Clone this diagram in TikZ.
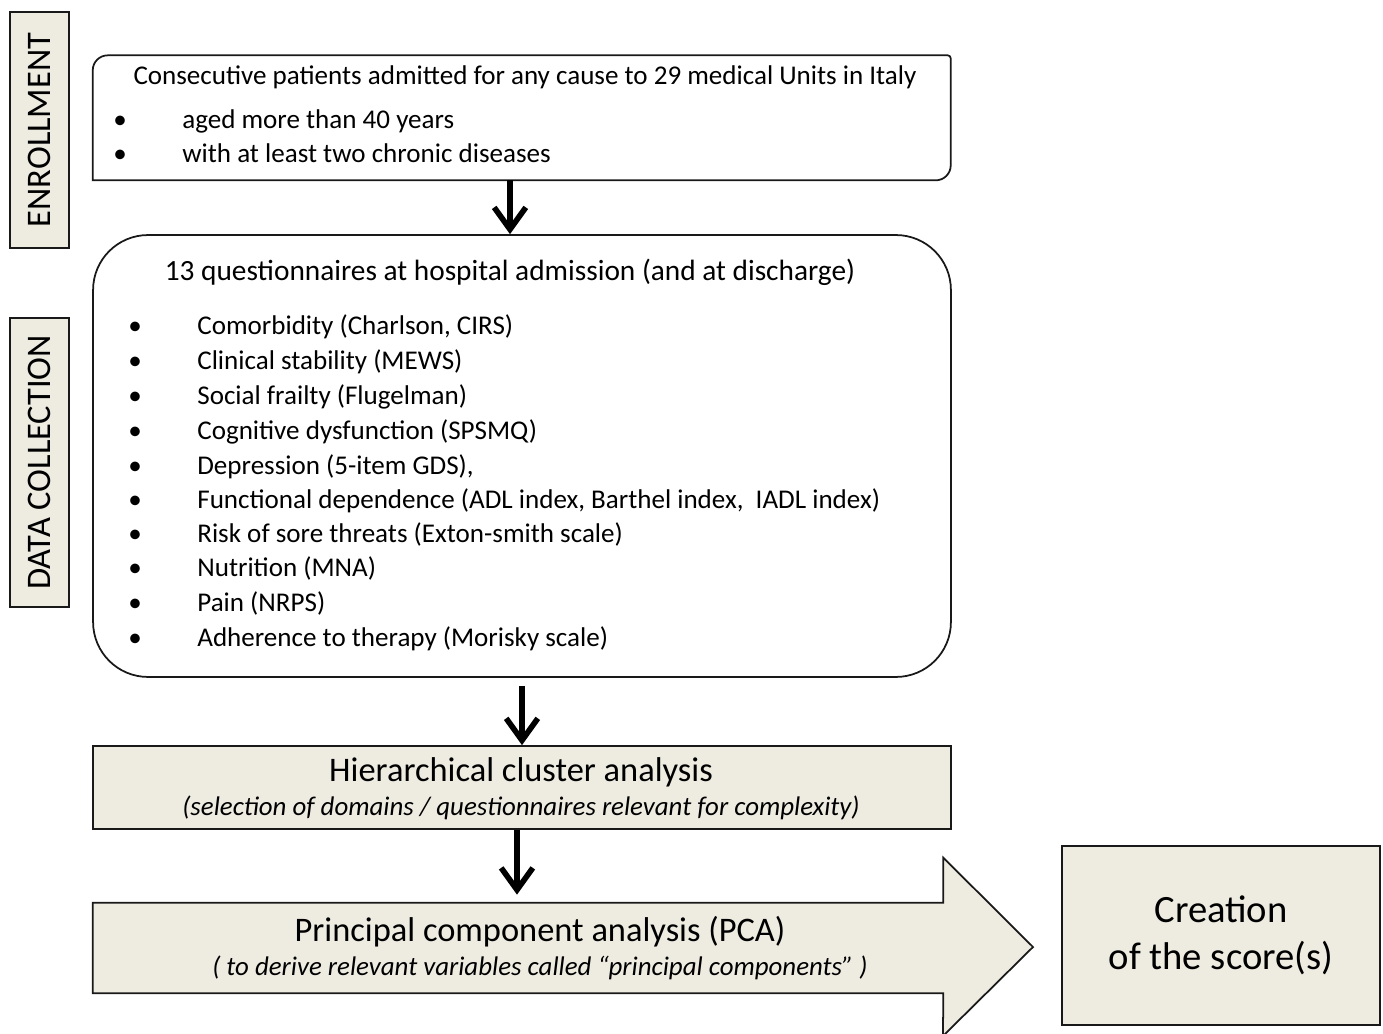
\documentclass[tikz,border=0pt]{standalone}
\usepackage{fontspec}
\setmainfont{Carlito}
\usetikzlibrary{arrows.meta,positioning}

\definecolor{tanfill}{RGB}{238,236,225}

\begin{document}
\begin{tikzpicture}[
  x=0.02cm, y=-0.02cm,
  >={Straight Barb[length=12.5pt,width=18pt]},
  flow/.style={->, line width=3.2pt},
  outline/.style={draw=black!90, line width=1pt},
  panel/.style={outline, fill=tanfill},
  frame/.style={draw=none, inner sep=0pt},
  stagebox/.style={
    panel,
    rotate=90,
    inner sep=0pt,
    minimum height=1.18cm,
    font=\fontsize{19.6}{23}\selectfont
  },
  body/.style={inner sep=0pt, font=\fontsize{15.4}{18}\selectfont},
  item/.style={body, anchor=base west},
  dot/.style={body, anchor=base},
  title/.style={inner sep=0pt, anchor=base, font=\fontsize{19.6}{23}\selectfont},
  subtitle/.style={inner sep=0pt, anchor=base, font=\fontsize{15.3}{18}\selectfont\itshape}
]
\useasboundingbox (0,0) rectangle (1383,1034);

% Stage labels on the left.
\node[stagebox, minimum width=4.72cm] (lblEnroll) at (39.5,130) {ENROLLMENT};
\node[stagebox, minimum width=5.78cm] (lblData) at (39.5,462.5) {DATA COLLECTION};

% Enrollment box (two opposite corners rounded).
\node[frame, minimum width=17.16cm, minimum height=2.5cm] (enroll) at (522,117.5) {};
\draw[outline] (enroll.south west) -- ++(0,-110)
  arc[start angle=180, end angle=270, radius=15] -- ++(840,0)
  arc[start angle=270, end angle=360, radius=3] -- ++(0,107)
  arc[start angle=0, end angle=90, radius=15] -- cycle;
\node[body, anchor=base] (enrollHead) at (525,85)
  {Consecutive patients admitted for any cause to 29 medical Units in Italy};
\node[dot] (e1dot) at (120,129) {•};
\node[item] (e1) at (182,129) {aged more than 40 years};
\node[dot] (e2dot) at (120,162) {•};
\node[item] (e2) at (182,162) {with at least two chronic diseases};

% Questionnaires box.
\node[frame, outline, rounded corners=1.1cm, minimum width=17.16cm, minimum height=8.84cm]
  (quest) at (522,456) {};
\node[body, anchor=base, font=\fontsize{16.7}{20}\selectfont] (questHead) at (510,280)
  {13 questionnaires at hospital admission (and at discharge)};
\node[dot] (q1dot) at (135,334) {•};
\node[item] (q1) at (197,334) {Comorbidity (Charlson, CIRS)};
\node[dot] (q2dot) at (135,369) {•};
\node[item] (q2) at (197,369) {Clinical stability (MEWS)};
\node[dot] (q3dot) at (135,404) {•};
\node[item] (q3) at (197,404) {Social frailty (Flugelman)};
\node[dot] (q4dot) at (135,439) {•};
\node[item] (q4) at (197,439) {Cognitive dysfunction (SPSMQ)};
\node[dot] (q5dot) at (135,474) {•};
\node[item] (q5) at (197,474) {Depression (5-item GDS),};
\node[dot] (q6dot) at (135,508) {•};
\node[item] (q6) at (197,508) {Functional dependence (ADL index, Barthel index,\ \ IADL index)};
\node[dot] (q7dot) at (135,542) {•};
\node[item] (q7) at (197,542) {Risk of sore threats (Exton-smith scale)};
\node[dot] (q8dot) at (135,576) {•};
\node[item] (q8) at (197,576) {Nutrition (MNA)};
\node[dot] (q9dot) at (135,611) {•};
\node[item] (q9) at (197,611) {Pain (NRPS)};
\node[dot] (q10dot) at (135,646) {•};
\node[item] (q10) at (197,646) {Adherence to therapy (Morisky scale)};

% Cluster analysis.
\node[panel, minimum width=17.16cm, minimum height=1.66cm] (hca) at (522,787.5) {};
\node[title] (hcaHead) at (521,781) {Hierarchical cluster analysis};
\node[subtitle] (hcaNote) at (521,815)
  {(selection of domains / questionnaires relevant for complexity)};

% Principal component analysis, drawn as a block arrow.
\node[frame, minimum width=17cm, minimum height=1.8cm] (pca) at (518,948) {};
\draw[panel] (pca.north west) -- (pca.north east) -- ++(0,-45) -- (1033,947)
  -- ++(-90,89) -- (pca.south east) -- (pca.south west) -- cycle;
\node[title] (pcaHead) at (540,941)
  {Principal component analysis (PCA)};
\node[subtitle] (pcaNote) at (540,975)
  {( to derive relevant variables called “principal components” )};

% Final score.
\node[panel, minimum width=6.36cm, minimum height=3.58cm, align=center,
  font=\fontsize{22}{26.7}\selectfont] (score) at (1221,935.5)
  {Creation\\of the score(s)};

% Flow between the steps.
\draw[flow] ([xshift=-0.24cm]enroll.south) -- ([xshift=-0.24cm]quest.north);
\draw[flow, shorten <=0.16cm] (quest.south) -- (hca.north);
\draw[flow, shorten >=0.16cm] ([xshift=-0.1cm]hca.south)
  -- ([xshift=-0.1cm]hca.south |- pca.north);

\end{tikzpicture}
\end{document}
